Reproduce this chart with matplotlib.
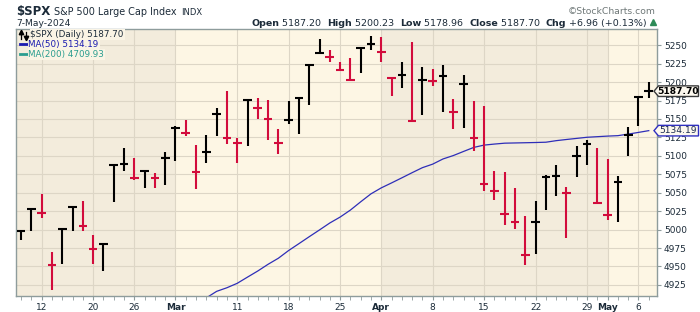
import matplotlib
matplotlib.use("Agg")
import matplotlib.pyplot as plt
from matplotlib.patches import Polygon
from matplotlib.lines import Line2D
from matplotlib.transforms import IdentityTransform
import numpy as np

# ---------------- data ----------------
dates = ["2024-02-08", "2024-02-09", "2024-02-12", "2024-02-13", "2024-02-14", "2024-02-15", "2024-02-16",
         "2024-02-20", "2024-02-21", "2024-02-22", "2024-02-23", "2024-02-26", "2024-02-27", "2024-02-28",
         "2024-02-29", "2024-03-01", "2024-03-04", "2024-03-05", "2024-03-06", "2024-03-07", "2024-03-08",
         "2024-03-11", "2024-03-12", "2024-03-13", "2024-03-14", "2024-03-15", "2024-03-18", "2024-03-19",
         "2024-03-20", "2024-03-21", "2024-03-22", "2024-03-25", "2024-03-26", "2024-03-27", "2024-03-28",
         "2024-04-01", "2024-04-02", "2024-04-03", "2024-04-04", "2024-04-05", "2024-04-08", "2024-04-09",
         "2024-04-10", "2024-04-11", "2024-04-12", "2024-04-15", "2024-04-16", "2024-04-17", "2024-04-18",
         "2024-04-19", "2024-04-22", "2024-04-23", "2024-04-24", "2024-04-25", "2024-04-26", "2024-04-29",
         "2024-04-30", "2024-05-01", "2024-05-02", "2024-05-03", "2024-05-06", "2024-05-07"]

highs = [4998.8, 5028.2, 5048.5, 4969.5, 5001.1, 5031.3, 5038.6, 4993.0, 4981.7, 5089.1, 5111.2, 5097.2,
         5080.1, 5077.1, 5105.4, 5140.1, 5148.7, 5114.8, 5128.4, 5164.5, 5188.0, 5123.9, 5177.1, 5178.0,
         5175.8, 5136.5, 5174.4, 5179.4, 5224.5, 5258.4, 5243.9, 5226.8, 5232.2, 5246.6, 5262.0, 5260.6,
         5206.0, 5226.8, 5253.9, 5220.0, 5217.8, 5223.2, 5177.1, 5210.1, 5174.9, 5167.2, 5079.2, 5077.8,
         5056.2, 5018.2, 5038.6, 5074.7, 5088.2, 5057.5, 5113.9, 5122.1, 5110.8, 5095.9, 5072.4, 5138.8,
         5180.3, 5200.23]

lows = [4985.3, 4998.8, 5015.5, 4917.6, 4953.7, 4997.5, 4998.8, 4952.8, 4943.3, 5038.1, 5080.1, 5067.9,
        5056.6, 5056.6, 5061.1, 5093.6, 5126.6, 5055.3, 5090.5, 5126.6, 5116.2, 5090.5, 5113.9, 5150.0,
        5121.6, 5102.7, 5143.3, 5129.7, 5169.0, 5238.1, 5226.8, 5215.5, 5201.1, 5211.9, 5243.5, 5226.8,
        5181.6, 5192.0, 5145.5, 5155.5, 5195.2, 5160.0, 5136.5, 5137.9, 5107.2, 5051.7, 5039.5, 5005.6,
        5000.2, 4951.4, 4967.2, 5026.8, 5046.2, 4988.9, 5072.0, 5087.8, 5035.0, 5013.7, 5010.1, 5100.4,
        5141.0, 5178.96]

closes = [4997.9, 5027.7, 5022.3, 4951.4, 5000.7, 5030.0, 5005.2, 4974.0, 4980.8, 5088.2, 5089.6, 5070.2,
          5079.2, 5070.6, 5096.8, 5138.3, 5131.5, 5078.7, 5105.8, 5157.3, 5124.8, 5117.5, 5175.3, 5164.9,
          5150.0, 5118.0, 5149.1, 5178.0, 5223.6, 5239.4, 5233.6, 5216.9, 5203.3, 5246.2, 5252.1, 5241.2,
          5205.1, 5210.1, 5147.3, 5203.3, 5202.0, 5208.7, 5160.0, 5197.9, 5123.9, 5062.5, 5051.7, 5021.4,
          5011.0, 4965.9, 5011.0, 5072.0, 5072.4, 5049.4, 5100.4, 5116.2, 5035.9, 5019.2, 5065.2, 5128.4,
          5179.4, 5187.70]

prev_close = 4995.1

ma50_start = 18
ma50 = [4907.5, 4916.3, 4921.2, 4927.2, 4935.6, 4943.9, 4953.0, 4961.2, 4971.7, 4981.0, 4990.4, 4999.6,
        5009.0, 5017.0, 5026.5, 5037.7, 5048.5, 5056.6, 5063.3, 5070.2, 5077.2, 5084.0, 5088.8, 5095.8,
        5100.4, 5106.0, 5111.5, 5114.6, 5116.0, 5117.2, 5117.5, 5117.8, 5118.1, 5118.5, 5120.6, 5122.2,
        5123.7, 5125.2, 5126.0, 5126.8, 5127.4, 5129.5, 5131.8, 5134.19]

tick_dates = ["2024-02-12", "2024-02-20", "2024-02-26", "2024-03-01", "2024-03-11", "2024-03-18", "2024-03-25",
              "2024-04-01", "2024-04-08", "2024-04-15", "2024-04-22", "2024-04-29", "2024-05-01", "2024-05-06"]
tick_texts = ["12", "20", "26", "Mar", "11", "18", "25", "Apr", "8", "15", "22", "29", "May", "6"]
month_labels = ["Mar", "Apr", "May"]
y_ticks = [4925, 4950, 4975, 5000, 5025, 5050, 5075, 5100, 5125, 5150, 5175, 5200, 5225, 5250]

# ---------------- style ----------------
W, H = 700, 312
TXT = "#1c2b39"
RED = "#d20c3c"
BLK = "#000000"
DARK_BG = "#f3ecdc"
LIGHT_BG = "#fdf6e4"
GRID = "#ddd6c6"
SPINE = "#8e9c9c"
BLUE = "#2e2eb8"
TEAL = "#2a9d8f"

plt.rcParams['font.family'] = ['DejaVu Sans']

fig = plt.figure(figsize=(W / 100, H / 100), dpi=100)
L, R, T, B = 16, 657, 29, 296
ax = fig.add_axes([L / W, 1 - B / H, (R - L) / W, (B - T) / H])

n = len(dates)
x = np.arange(n)
xlim = (-0.5, n - 1 + 0.8)
ylim = (4910, 5272)
ax.set_xlim(*xlim)
ax.set_ylim(*ylim)

# month bands
ax.set_facecolor(DARK_BG)
ms = [dates.index(d) for d in ["2024-03-01", "2024-04-01", "2024-05-01"]]
ax.axvspan(ms[0], ms[1], color=LIGHT_BG, lw=0, zorder=0)
ax.axvspan(ms[2], xlim[1], color=LIGHT_BG, lw=0, zorder=0)

# grid
tick_pos = [dates.index(d) for d in tick_dates]
for yv in y_ticks:
    ax.axhline(yv, color=GRID, lw=0.8, zorder=0.5)
for xp in tick_pos:
    ax.axvline(xp, color=GRID, lw=0.8, zorder=0.5)

# bars (high-low with close ticks)
prev = [prev_close] + closes[:-1]
cols = [RED if c < p else BLK for c, p in zip(closes, prev)]
ax.vlines(x, lows, highs, colors=cols, lw=1.5, zorder=3)
ax.hlines(closes, x - 0.42, x + 0.42, colors=cols, lw=1.5, zorder=3)

# MA50
ax.plot(np.arange(ma50_start, ma50_start + len(ma50)), ma50, color=BLUE, lw=0.9, zorder=2)

# axes styling
for s in ax.spines.values():
    s.set_color(SPINE)
    s.set_linewidth(1.0)
ax.set_xticks(tick_pos)
ax.set_xticklabels(tick_texts)
ax.set_xticks(x, minor=True)
for lab in ax.get_xticklabels():
    if lab.get_text() in month_labels:
        lab.set_fontweight("bold")
ax.tick_params(axis="x", which="both", length=3, color=SPINE, labelsize=6.5, labelcolor=TXT, pad=2)
ax.yaxis.tick_right()
ax.set_yticks(y_ticks)
ax.set_yticklabels([str(v) for v in y_ticks])
ax.tick_params(axis="y", length=3, color=SPINE, labelsize=6.5, labelcolor=TXT, pad=2)

def fx(px):
    return px / W

def fy(py):
    return 1 - py / H

# legend inside: up/down arrow icon drawn as lines + markers
fig.add_artist(Line2D([fx(21), fx(21)], [fy(38.5), fy(32.5)], color=BLK, lw=0.9, zorder=6))
fig.add_artist(Line2D([fx(21)], [fy(32.3)], marker="^", markersize=3.2, color=BLK, lw=0, zorder=6))
fig.add_artist(Line2D([fx(25.5), fx(25.5)], [fy(31.5), fy(37.5)], color=BLK, lw=0.9, zorder=6))
fig.add_artist(Line2D([fx(25.5)], [fy(37.7)], marker="v", markersize=3.2, color=BLK, lw=0, zorder=6))
fig.text(fx(30.5), fy(34.7), "$SPX (Daily) 5187.70", fontsize=6.3, color=TXT, va="center", ha="left",
         zorder=6, bbox=dict(boxstyle="square,pad=0.1", fc="#faf4e5", ec="none"))
fig.add_artist(Line2D([fx(20), fx(27)], [fy(44.3), fy(44.3)], color="#1a1ab0", lw=2.0, zorder=6))
fig.text(fx(28.5), fy(44.3), "MA(50) 5134.19", fontsize=6.3, color="#1a1ab0", va="center", ha="left",
         zorder=6, bbox=dict(boxstyle="square,pad=0.1", fc="#faf4e5", ec="none"))
fig.add_artist(Line2D([fx(20), fx(27)], [fy(54.3), fy(54.3)], color=TEAL, lw=2.0, zorder=6))
fig.text(fx(28.5), fy(54.3), "MA(200) 4709.93", fontsize=6.3, color=TEAL, va="center", ha="left",
         zorder=6, bbox=dict(boxstyle="square,pad=0.1", fc="#faf4e5", ec="none"))

# price tags on right
def price_tag(value, text, edge, tcolor, weight):
    ypix = ax.transData.transform((0, value))[1]
    h = 5.3
    pts = [(654, ypix), (658.5, ypix + h), (698.5, ypix + h), (698.5, ypix - h), (658.5, ypix - h)]
    fig.add_artist(Polygon(pts, closed=True, transform=IdentityTransform(), fc="#fcf8ee", ec=edge, lw=1.0,
                           zorder=8))
    fig.text(fx(678.5), ypix / H, text, fontsize=6.6, color=tcolor, weight=weight, ha="center",
             va="center", zorder=9)

price_tag(closes[-1], "5187.70", "#3a3a3a", "#000000", "bold")
price_tag(ma50[-1], "5134.19", "#3030c0", "#1a2a50", "normal")

# header
fig.text(fx(16), fy(15), "$SPX", fontsize=8.5, weight="bold", color=TXT, va="baseline", ha="left")
fig.text(fx(54), fy(14.7), "S&P 500 Large Cap Index", fontsize=6.9, color=TXT, va="baseline", ha="left")
fig.text(fx(181), fy(14.7), "INDX", fontsize=6.0, color=TXT, va="baseline", ha="left")
fig.text(fx(16), fy(25.7), "7-May-2024", fontsize=6.6, color=TXT, va="baseline", ha="left")
fig.text(fx(656), fy(13.5), "©StockCharts.com", fontsize=6.7, color="#6f7878", va="baseline", ha="right")

pieces = [("Open", "bold"), (" 5187.20  ", "normal"), ("High", "bold"), (" 5200.23  ", "normal"),
          ("Low", "bold"), (" 5178.96  ", "normal"), ("Close", "bold"), (" 5187.70  ", "normal"),
          ("Chg", "bold"), (" +6.96 (+0.13%)", "normal")]
renderer = fig.canvas.get_renderer()
texts = []
for s, wgt in pieces:
    t = fig.text(0, fy(25.7), s, fontsize=6.8, weight=wgt, color=TXT, va="baseline", ha="left")
    texts.append(t)
widths = [t.get_window_extent(renderer).width for t in texts]
right_edge = 647.0
xcur = right_edge - sum(widths)
for t, w in zip(texts, widths):
    t.set_x(fx(xcur))
    xcur += w
fig.add_artist(Line2D([fx(653)], [fy(22.3)], marker="^", markersize=4.5, color="#2e8b57", lw=0))

fig.savefig("out.png", dpi=100, facecolor="white")
